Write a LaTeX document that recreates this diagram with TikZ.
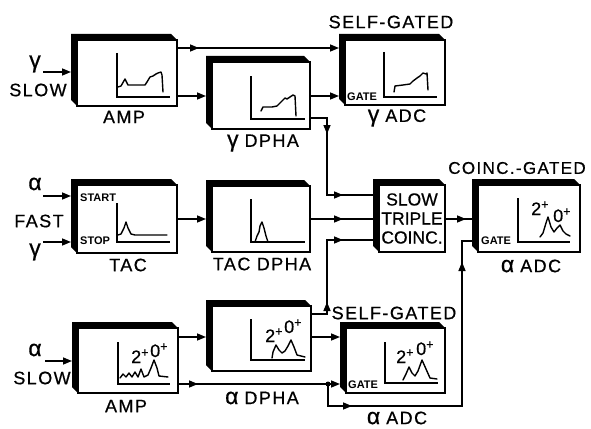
\documentclass[tikz,border=0pt]{standalone}
\usepackage{fontspec}
\setmainfont{Liberation Sans}
\newfontfamily\labfont[LetterSpace=8, FakeBold=0.6]{Liberation Sans}
\newfontfamily\plainbold[FakeBold=0.6]{Liberation Sans}
\usetikzlibrary{arrows.meta,calc,decorations.markings}
\newcommand\extrude[1]{%
  \fill (#1.south west) -- ([xshift=-6pt,yshift=6pt]#1.south west)
    -- ([xshift=-6pt,yshift=6pt]#1.north west) -- ([xshift=-6pt,yshift=6pt]#1.north east)
    -- (#1.north east) -- (#1.north west) -- cycle;
  \coordinate (#1L) at ([xshift=-6pt]#1.west);}
\newcommand\gk[1]{{\plainbold\fontsize{23}{23}\selectfont #1}\hspace{6pt}}
\begin{document}
\begin{tikzpicture}[x=1pt,y=-1pt,
  dev/.style={draw, line width=1.6pt, fill=white, anchor=north west, inner sep=0pt, outer sep=0pt},
  wire/.style={line width=1.5pt},
  tip/.style={-{Triangle[length=9pt,width=7pt]}},
  mid/.style={postaction={decorate, decoration={markings, mark=at position #1 with {\arrow{Triangle[length=9pt,width=7pt]}}}}},
  lbl/.style={font=\labfont\fontsize{18}{20}\selectfont, inner sep=0pt},
  grk/.style={font=\plainbold\fontsize{23}{23}\selectfont, inner sep=0pt},
  coinctext/.style={font=\plainbold\fontsize{17.5}{19}\selectfont, align=center},
  small/.style={font=\fontsize{11}{11}\selectfont\bfseries, inner sep=0pt, anchor=west},
  axis/.style={line width=1.4pt},
  spec/.style={line width=1.4pt, line join=round, line cap=round},
  pk/.style={font=\plainbold\fontsize{18}{18}\selectfont, inner sep=0pt, anchor=base west},
]
\useasboundingbox (0,0) rectangle (591,428);

% ---------- boxes ----------
\node[dev, minimum width=100pt, minimum height=66pt] (gamp) at (77,40) {};
\extrude{gamp}
\node[dev, minimum width=98pt, minimum height=67pt] (gdpha) at (212,62) {};
\extrude{gdpha}
\node[dev, minimum width=100pt, minimum height=65pt] (gadc) at (345,40) {};
\extrude{gadc}
\node[dev, minimum width=100pt, minimum height=68pt] (tac) at (77,185) {};
\extrude{tac}
\node[dev, minimum width=98pt, minimum height=66pt] (tdpha) at (212,186) {};
\extrude{tdpha}
\node[dev, coinctext, minimum width=66pt, minimum height=67pt] (coinc) at (379,185) {SLOW\\TRIPLE\\COINC.};
\extrude{coinc}
\node[dev, minimum width=102pt, minimum height=67pt] (cadc) at (478,185) {};
\extrude{cadc}
\node[dev, minimum width=100pt, minimum height=65pt] (aamp) at (78,328) {};
\extrude{aamp}
\node[dev, minimum width=99pt, minimum height=65pt] (adpha) at (212,306) {};
\extrude{adpha}
\node[dev, minimum width=99pt, minimum height=65pt] (aadc) at (346,328) {};
\extrude{aadc}

% ---------- labels ----------
\node[grk] (lg1) at (35,64) {γ};
\node[lbl] (lslow1) at (38,90) {SLOW};
\node[lbl] (lamp1) at (124,117) {AMP};
\node[lbl] (lgdpha) at (263,143) {\gk{γ}DPHA};
\node[lbl] (lsg1) at (391,22) {SELF-GATED};
\node[lbl] (lgadc) at (397,118) {\gk{γ}ADC};
\node[grk] (la2) at (35,184) {α};
\node[lbl] (lfast) at (39,221) {FAST};
\node[grk] (lg2) at (35,252) {γ};
\node[lbl] (ltac) at (128,265) {TAC};
\node[lbl] (ltdpha) at (262,264) {TAC DPHA};
\node[lbl, font=\labfont\fontsize{17}{19}\selectfont] (lcg) at (517,168) {COINC.-GATED};
\node[lbl] (lcadc) at (531,266) {\gk{α}ADC};
\node[grk] (la3) at (35,350) {α};
\node[lbl] (lslow3) at (42,378) {SLOW};
\node[lbl] (lamp3) at (126,406) {AMP};
\node[lbl] (ladpha) at (262,398) {\gk{α}DPHA};
\node[lbl] (lsg3) at (394,313) {SELF-GATED};
\node[lbl] (laadc) at (397,418) {\gk{α}ADC};

\node[small] (start) at (80,198) {START};
\node[small] (stop) at (80,241) {STOP};
\node[small] (gate1) at (347,97) {GATE};
\node[small] (gate2) at (481,241) {GATE};
\node[small] (gate3) at (348,385) {GATE};

% ---------- spectra ----------
\draw[axis] (117,53) -- (117,97) -- (170,97);
\draw[spec] (118,87) -- (121,86) -- (125,79) -- (128,85) -- (145,85) -- (147,82) -- (150,77) -- (153,76) -- (156,74) -- (158,73) -- (161,72) -- (162,75) -- (163,92);
\draw[axis] (251,76) -- (251,119) -- (305,119);
\draw[spec] (261,111) -- (263,107) -- (272,107) -- (277,106) -- (280,103) -- (283,100) -- (285,98) -- (287,99) -- (290,97) -- (293,95) -- (295,96) -- (296,116);
\draw[axis] (384,52) -- (384,97) -- (437,97);
\draw[spec] (394,92) -- (395,86) -- (403,85) -- (410,84) -- (413,81) -- (417,78) -- (420,76) -- (423,73) -- (426,74) -- (427,73) -- (428,90);
\draw[axis] (117,203) -- (117,242) -- (170,242);
\draw[spec] (118,235) -- (121,234) -- (124,228) -- (126,222) -- (128,228) -- (131,234) -- (135,235) -- (167,235);
\draw[axis] (251,199) -- (251,242) -- (305,242);
\draw[spec] (255,242) -- (257,236) -- (259,232) -- (260,226) -- (262,222) -- (264,228) -- (266,236) -- (268,242);
\draw[axis] (118,342) -- (118,384) -- (170,384);
\draw[spec] (120,378) -- (123,374) -- (126,377) -- (129,373) -- (132,377) -- (135,372) -- (138,377) -- (141,369) -- (144,377) -- (148,375) -- (151,368) -- (154,360) -- (157,368) -- (159,376) -- (168,377);
\draw[axis] (251,319) -- (251,360) -- (305,360);
\draw[spec] (272,358) -- (273,352) -- (276,345) -- (279,350) -- (282,353) -- (285,351) -- (288,346) -- (291,340) -- (294,347) -- (297,355) -- (305,357);
\draw[axis] (385,342) -- (385,383) -- (438,383);
\draw[spec] (403,380) -- (406,374) -- (409,367) -- (412,373) -- (415,376) -- (418,371) -- (422,360) -- (426,369) -- (430,378) -- (437,379);
\draw[axis] (518,198) -- (518,242) -- (570,242);
\draw[spec] (540,237) -- (543,233) -- (546,223) -- (548,217) -- (551,227) -- (554,232) -- (557,228) -- (560,225) -- (563,231) -- (566,234) -- (570,236);

\node[pk] (p2a) at (131,363) {2\textsuperscript{+}};
\node[pk] (p0a) at (150,357) {0\textsuperscript{+}};
\node[pk] (p2b) at (265,342) {2\textsuperscript{+}};
\node[pk] (p0b) at (284,333) {0\textsuperscript{+}};
\node[pk] (p2c) at (396,363) {2\textsuperscript{+}};
\node[pk] (p0c) at (416,355) {0\textsuperscript{+}};
\node[pk] (p2d) at (531,215) {2\textsuperscript{+}};
\node[pk] (p0d) at (553,222) {0\textsuperscript{+}};

% ---------- connectors ----------
\coordinate (in1) at (43,72);
\coordinate (in2) at (43,196);
\coordinate (in3) at (43,242);
\coordinate (in4) at (45,361);
\draw[wire, tip] (in1) -- (gampL |- in1);
\draw[wire, tip] (in2) -- (tacL |- in2);
\draw[wire, tip] (in3) -- (tacL |- in3);
\draw[wire, tip] (in4) -- (aampL |- in4);

\draw[wire, tip, mid=22pt] (gamp.east |- 0,48) -- (gadcL |- 0,48);
\draw[wire, tip] (gamp.east |- 0,96) -- (gdphaL |- 0,96);
\draw[wire, tip] (gdpha.east |- 0,96) -- (gadcL |- 0,96);
\coordinate (bendg) at (327,195);
\draw[wire, mid=33pt, mid=110pt] (gdpha.east |- 0,118) -| (bendg) -- (coincL |- bendg);

\draw[wire, tip] (tac.east |- 0,219) -- (tdphaL |- 0,219);
\draw[wire, mid=33pt] (tdpha.east |- 0,219) -- (coincL |- 0,219);
\draw[wire, mid=21pt] (coinc.east |- 0,219) -- (cadcL |- 0,219);

\coordinate (benda) at (327,240);
\draw[wire, mid=28pt, mid=106pt] (adpha.east |- 0,314) -| (benda) -- (coincL |- benda);

\draw[wire, tip] (aamp.east |- 0,337) -- (adphaL |- 0,337);
\draw[wire, tip] (adpha.east |- 0,337) -- (aadcL |- 0,337);
\draw[wire, tip, mid=20pt] (aamp.east |- 0,384) -- (aadcL |- 0,384);
\coordinate (junc) at (328,384);
\coordinate (low) at (462,406);
\draw[wire, mid=46pt, mid=300pt] (junc) |- (low) |- (cadcL |- 0,241);
\fill (junc) circle (2.5pt);
\end{tikzpicture}
\end{document}
